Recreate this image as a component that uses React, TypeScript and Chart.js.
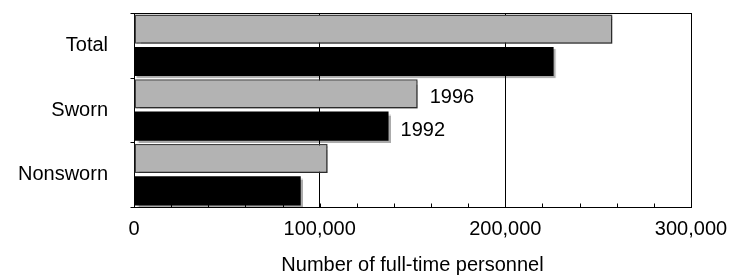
import React, { useEffect, useRef } from 'react';
import { Chart, registerables } from 'chart.js';

Chart.register(...registerables);

const categories = ['Total', 'Sworn', 'Nonsworn'];
const values1996 = [257700, 152800, 104300];
const values1992 = [226000, 137100, 89800];
const seriesLabels = ['1996', '1992'];
const xMin = 0;
const xMax = 300000;
const xMinorStep = 20000;
const xMajorStep = 100000;
const xTitle = 'Number of full-time personnel';
const labelledCategory = 'Sworn';

const FONT = '"Liberation Sans", Arial, Helvetica, sans-serif';

export default function App() {
  const ref = useRef<HTMLCanvasElement>(null);

  useEffect(() => {
    if (!ref.current) return;

    const shadowPlugin = {
      id: 'barShadow',
      beforeDatasetDraw(chart: any) {
        const ctx = chart.ctx;
        ctx.save();
        ctx.shadowColor = 'rgba(0,0,0,0.33)';
        ctx.shadowOffsetX = 2;
        ctx.shadowOffsetY = 2;
        ctx.shadowBlur = 1;
      },
      afterDatasetDraw(chart: any) {
        chart.ctx.restore();
      },
    };

    const framePlugin = {
      id: 'frame',
      beforeDatasetsDraw(chart: any) {
        const { ctx, chartArea } = chart;
        const xs = chart.scales.x;
        const ys = chart.scales.y;
        ctx.save();
        ctx.strokeStyle = '#000';
        ctx.lineWidth = 1;
        const l = Math.round(chartArea.left) + 0.5;
        const t = Math.round(chartArea.top) + 0.5;
        const b = Math.round(chartArea.bottom) + 0.5;
        ctx.strokeRect(
          l,
          t,
          Math.round(chartArea.right - chartArea.left),
          Math.round(chartArea.bottom - chartArea.top)
        );
        // inward minor ticks on the value axis
        ctx.beginPath();
        xs.ticks.forEach((tk: any) => {
          const px = Math.round(xs.getPixelForValue(tk.value)) + 0.5;
          ctx.moveTo(px, b);
          ctx.lineTo(px, b - 4);
        });
        // outward ticks on category boundaries
        for (let i = 0; i <= categories.length; i++) {
          const py = Math.round(ys.getPixelForValue(i - 0.5)) + 0.5;
          ctx.moveTo(l, py);
          ctx.lineTo(l - 4, py);
        }
        ctx.stroke();
        ctx.restore();
      },
    };

    const seriesLabelPlugin = {
      id: 'seriesLabels',
      afterDatasetsDraw(chart: any) {
        const idx = categories.indexOf(labelledCategory);
        const ctx = chart.ctx;
        ctx.save();
        ctx.fillStyle = '#000';
        ctx.font = `20px ${FONT}`;
        ctx.textAlign = 'left';
        ctx.textBaseline = 'middle';
        chart.data.datasets.forEach((ds: any, i: number) => {
          const el = chart.getDatasetMeta(i).data[idx];
          if (!el) return;
          ctx.fillText(seriesLabels[i], el.x + 12, el.y + 4);
        });
        ctx.restore();
      },
    };

    const chart = new Chart(ref.current, {
      type: 'bar',
      data: {
        labels: categories,
        datasets: [
          {
            label: seriesLabels[0],
            data: values1996,
            backgroundColor: '#b3b3b3',
            borderColor: '#404040',
            borderWidth: 1.5,
            borderSkipped: false,
          },
          {
            label: seriesLabels[1],
            data: values1992,
            backgroundColor: '#000000',
            borderWidth: 0,
          },
        ],
      },
      options: {
        indexAxis: 'y',
        responsive: true,
        maintainAspectRatio: false,
        animation: false,
        layout: { padding: { top: 13, right: 44, left: 0, bottom: 0 } },
        datasets: { bar: { categoryPercentage: 1, barPercentage: 0.9 } },
        plugins: {
          legend: { display: false },
          tooltip: { enabled: false },
        },
        scales: {
          x: {
            type: 'linear',
            min: xMin,
            max: xMax,
            afterFit(s: any) {
              s.height = 68;
            },
            border: { color: '#000', width: 1 },
            grid: {
              color: (c: any) =>
                c.tick && c.tick.value % xMajorStep === 0 ? '#000' : 'rgba(0,0,0,0)',
              tickColor: 'rgba(0,0,0,0)',
              tickLength: 10,
              drawTicks: true,
              lineWidth: 1,
            },
            ticks: {
              stepSize: xMinorStep,
              autoSkip: false,
              maxRotation: 0,
              padding: 0,
              color: '#000',
              font: { family: FONT, size: 20 },
              callback: (v: any) =>
                Number(v) % xMajorStep === 0 ? Number(v).toLocaleString('en-US') : '',
            },
            title: {
              display: true,
              text: xTitle,
              color: '#000',
              font: { family: FONT, size: 20 },
              padding: { top: 0, bottom: -2 },
            },
          },
          y: {
            afterFit(s: any) {
              s.width = 134;
            },
            border: { color: '#000', width: 1 },
            grid: {
              offset: true,
              drawOnChartArea: false,
              drawTicks: true,
              tickLength: 26,
              tickColor: 'rgba(0,0,0,0)',
            },
            ticks: {
              padding: 0,
              color: '#000',
              font: { family: FONT, size: 20 },
            },
          },
        },
      },
      plugins: [shadowPlugin, framePlugin, seriesLabelPlugin],
    } as any);

    return () => chart.destroy();
  }, []);

  return (
    <div style={{ position: 'fixed', left: 0, top: 0, width: 735, height: 275, background: '#fff' }}>
      <canvas ref={ref} />
    </div>
  );
}
